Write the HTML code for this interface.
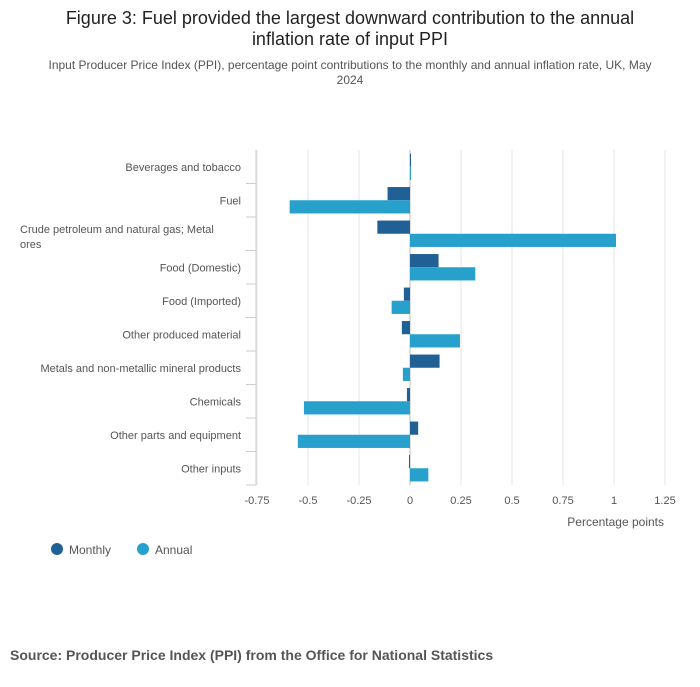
<!DOCTYPE html>
<html><head><meta charset="utf-8"><style>
body{margin:0;background:#fff;font-family:"Liberation Sans",sans-serif;}
svg text{font-family:"Liberation Sans",sans-serif;}
</style></head><body>
<svg width="700" height="682">
<text x="350" y="24" text-anchor="middle" font-size="18" fill="#222">Figure 3: Fuel provided the largest downward contribution to the annual</text>
<text x="350" y="45" text-anchor="middle" font-size="18" fill="#222">inflation rate of input PPI</text>
<text x="350" y="69" text-anchor="middle" font-size="12" fill="#555">Input Producer Price Index (PPI), percentage point contributions to the monthly and annual inflation rate, UK, May</text>
<text x="350" y="84" text-anchor="middle" font-size="12" fill="#555">2024</text>
<g id="plot"></g>
<text x="664" y="526" text-anchor="end" font-size="12" fill="#555">Percentage points</text>
<g>
<circle cx="57" cy="549" r="6" fill="#206095"/>
<text x="69" y="554" font-size="12" fill="#555">Monthly</text>
<circle cx="143" cy="549" r="6" fill="#27a0cc"/>
<text x="155" y="554" font-size="12" fill="#555">Annual</text>
</g>
<text x="10" y="660" font-size="14" font-weight="bold" fill="#555">Source: Producer Price Index (PPI) from the Office for National Statistics</text>
</svg>
<script>
const categories=["Beverages and tobacco","Fuel","Crude petroleum and natural gas; Metal ores","Food (Domestic)","Food (Imported)","Other produced material","Metals and non-metallic mineral products","Chemicals","Other parts and equipment","Other inputs"];
const monthly=[0.003,-0.11,-0.16,0.14,-0.03,-0.04,0.145,-0.015,0.04,-0.005];
const annual=[0.003,-0.59,1.01,0.32,-0.09,0.245,-0.035,-0.52,-0.55,0.09];
const ticks=[-0.75,-0.5,-0.25,0,0.25,0.5,0.75,1,1.25];
const tickLabels=["-0.75","-0.5","-0.25","0","0.25","0.5","0.75","1","1.25"];
const NS="http://www.w3.org/2000/svg";
const g=document.getElementById('plot');
const x0=257,x1=665,plotTop=150,plotBottom=485;
const xs=v=>x0+(v-(-0.75))/(2)*(x1-x0);
const rowH=(plotBottom-plotTop)/categories.length;
function mk(t,a){const e=document.createElementNS(NS,t);for(const k in a)e.setAttribute(k,a[k]);g.appendChild(e);return e;}
ticks.forEach((t,i)=>{
 const l=mk('line',{x1:xs(t),x2:xs(t),y1:plotTop,y2:plotBottom,stroke:t===0?'#bbb':'#e4e4e4','stroke-width':1});
 
 
 const tx=mk('text',{x:xs(t),y:plotBottom+19,'text-anchor':'middle','font-size':11,fill:'#555'});
 tx.textContent=tickLabels[i];
 
 
});
const ax=mk('line',{x1:256,x2:256,y1:plotTop,y2:plotBottom,stroke:'#ccc'});


categories.forEach((c,i)=>{
 const y=plotTop+i*rowH;
 const tk=mk('line',{x1:246,x2:256,y1:y+rowH,y2:y+rowH,stroke:'#ccc'});
 
 
 const cy=y+rowH/2;
 if(c.length>40){
  const t1=mk('text',{x:20,y:cy-1,'font-size':11,fill:'#555'});t1.textContent="Crude petroleum and natural gas; Metal";
  
  
  const t2=mk('text',{x:20,y:cy+14,'font-size':11,fill:'#555'});t2.textContent="ores";
  
  
 } else {
  const t=mk('text',{x:241,y:cy+4,'text-anchor':'end','font-size':11,fill:'#555'});t.textContent=c;
  
  
 }
 const bh=13.2;
 const m=monthly[i],a=annual[i];
 const b1=mk('rect',{x:Math.min(xs(0),xs(m)),y:cy-bh,width:Math.max(1,Math.abs(xs(m)-xs(0))),height:bh,fill:'#206095'});
 
 
 const b2=mk('rect',{x:Math.min(xs(0),xs(a)),y:cy,width:Math.max(1,Math.abs(xs(a)-xs(0))),height:bh,fill:'#27a0cc'});
 
 
});
</script>
</body></html>
